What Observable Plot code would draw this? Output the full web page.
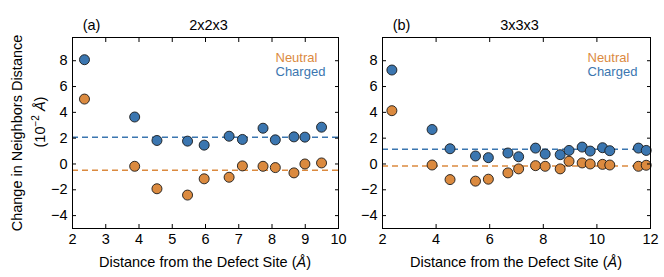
<!DOCTYPE html>
<html><head><meta charset="utf-8">
<script src="https://cdn.jsdelivr.net/npm/d3@7"></script>
<script src="https://cdn.jsdelivr.net/npm/@observablehq/plot@0.6"></script>
<style>
body{margin:0;background:#fff;}
#root{position:relative;width:664px;height:277px;font-family:"Liberation Sans",Arial,sans-serif;color:#000;overflow:hidden;}
.abs{position:absolute;white-space:nowrap;font-size:14.5px;line-height:1;}
.panel{position:absolute;top:0;}
</style></head><body><div id="root"></div>
<script>
// Panel (a) 2x2x3
const distA = [2.36, 3.87, 4.54, 5.46, 5.96, 6.71, 7.11, 7.73, 8.10, 8.66, 8.99, 9.49];
const chargedA = [8.08, 3.64, 1.82, 1.77, 1.46, 2.15, 1.90, 2.77, 1.87, 2.10, 2.08, 2.85];
const neutralA = [5.03, -0.18, -1.92, -2.41, -1.15, -1.03, -0.15, -0.18, -0.28, -0.69, 0.0, 0.08];
const meanA = [-0.49, 2.08]; // neutral, charged

// Panel (b) 3x3x3
const distB = [2.35, 3.85, 4.52, 5.47, 5.95, 6.68, 7.08, 7.71, 8.07, 8.63, 8.96, 9.45, 9.75, 10.21, 10.48, 11.55, 11.84];
const chargedB = [7.28, 2.67, 1.18, 0.62, 0.49, 0.85, 0.56, 1.23, 0.77, 0.72, 1.05, 1.31, 1.00, 1.26, 1.03, 1.23, 1.05];
const neutralB = [4.13, -0.08, -1.21, -1.33, -1.18, -0.69, -0.38, -0.13, -0.18, -0.38, 0.21, 0.08, 0.00, -0.03, -0.08, -0.18, -0.10];
const meanB = [-0.15, 1.15];

const series = ["Neutral", "Charged"];
const colors = ["#db8a3f", "#3b76b0"];
const yTicks = [-4, -2, 0, 2, 4, 6, 8];
const xTicksA = [2, 3, 4, 5, 6, 7, 8, 9, 10];
const xTicksB = [2, 4, 6, 8, 10, 12];
const titlesA = ["(a)", "2x2x3"];
const titlesB = ["(b)", "3x3x3"];

const fmt = d => d < 0 ? "\u2212" + (-d) : String(d);
const blank = () => "";

function panel({dist, charged, neutral, mean, xDomain, xTicks, width, marginLeft, marginRight, titles}) {
  const rows = [];
  dist.forEach((d, i) => rows.push({x: d, y: neutral[i], s: series[0]}));
  dist.forEach((d, i) => rows.push({x: d, y: charged[i], s: series[1]}));
  const means = series.map((s, i) => ({s, y: mean[i]}));
  return Plot.plot({
    width, height: 277, marginLeft, marginRight, marginTop: 37, marginBottom: 49,
    style: {fontFamily: "'Liberation Sans', Arial, sans-serif", fontSize: "14.5px", background: "transparent", color: "#000", overflow: "visible"},
    x: {domain: xDomain},
    y: {domain: [-5, 9.8]},
    color: {domain: series, range: colors},
    marks: [
      Plot.ruleY(means, {y: "y", stroke: "s", strokeWidth: 1.5, strokeDasharray: "6,4"}),
      Plot.dot(rows, {x: "x", y: "y", fill: "s", stroke: "#1a1a1a", strokeWidth: 0.9, r: 5, fillOpacity: 1}),
      Plot.frame({stroke: "#000", strokeWidth: 1}),
      Plot.axisX({ticks: xTicks, tickSize: 0, tickPadding: 5, tickFormat: fmt, label: null, fontSize: 14.5}),
      Plot.axisX({ticks: xTicks, tickSize: -4, tickFormat: blank, label: null}),
      Plot.axisX({anchor: "top", ticks: xTicks, tickSize: -4, tickFormat: blank, label: null}),
      Plot.axisY({ticks: yTicks, tickSize: 0, tickPadding: 5, tickFormat: fmt, label: null, fontSize: 14.5}),
      Plot.axisY({ticks: yTicks, tickSize: -4, tickFormat: blank, label: null}),
      Plot.axisY({anchor: "right", ticks: yTicks, tickSize: -4, tickFormat: blank, label: null}),
      Plot.text([series[0]], {text: d => d, frameAnchor: "top-right", dx: -63, dy: 15, textAnchor: "start", fill: colors[0], fontSize: 13}),
      Plot.text([series[1]], {text: d => d, frameAnchor: "top-right", dx: -63, dy: 29.5, textAnchor: "start", fill: colors[1], fontSize: 13}),
      Plot.text([titles[0]], {text: d => d, frameAnchor: "top-left", dx: 19, dy: -18, textAnchor: "middle", fill: "#000", fontSize: 14.5}),
      Plot.text([titles[1]], {text: d => d, frameAnchor: "top", dx: 3, dy: -18, textAnchor: "middle", fill: "#000", fontSize: 14.5})
    ]
  });
}

const root = document.getElementById("root");
const pa = panel({dist: distA, charged: chargedA, neutral: neutralA, mean: meanA, xDomain: [2, 10], xTicks: xTicksA, width: 345, marginLeft: 72, marginRight: 7, titles: titlesA});
pa.classList.add("panel"); pa.style.left = "0px";
const pb = panel({dist: distB, charged: chargedB, neutral: neutralB, mean: meanB, xDomain: [2, 12], xTicks: xTicksB, width: 319, marginLeft: 37, marginRight: 14, titles: titlesB});
pb.classList.add("panel"); pb.style.left = "345px";
root.appendChild(pa); root.appendChild(pb);

function label(html, x, y, rotate) {
  const d = document.createElement("div");
  d.className = "abs";
  d.innerHTML = html;
  d.style.left = x + "px"; d.style.top = y + "px";
  d.style.transform = "translate(-50%,-50%)" + (rotate ? " rotate(-90deg)" : "");
  root.appendChild(d);
}
const xLabel = "Distance from the Defect Site (<i>\u00C5</i>)";
label(xLabel, 205, 262, false);
label(xLabel, 516, 262, false);
label("Change in Neighbors Distance", 17, 133, true);
label("(10<sup style='font-size:10px'>\u22122</sup> <i>\u00C5</i>)", 39, 122, true);
</script></body></html>
